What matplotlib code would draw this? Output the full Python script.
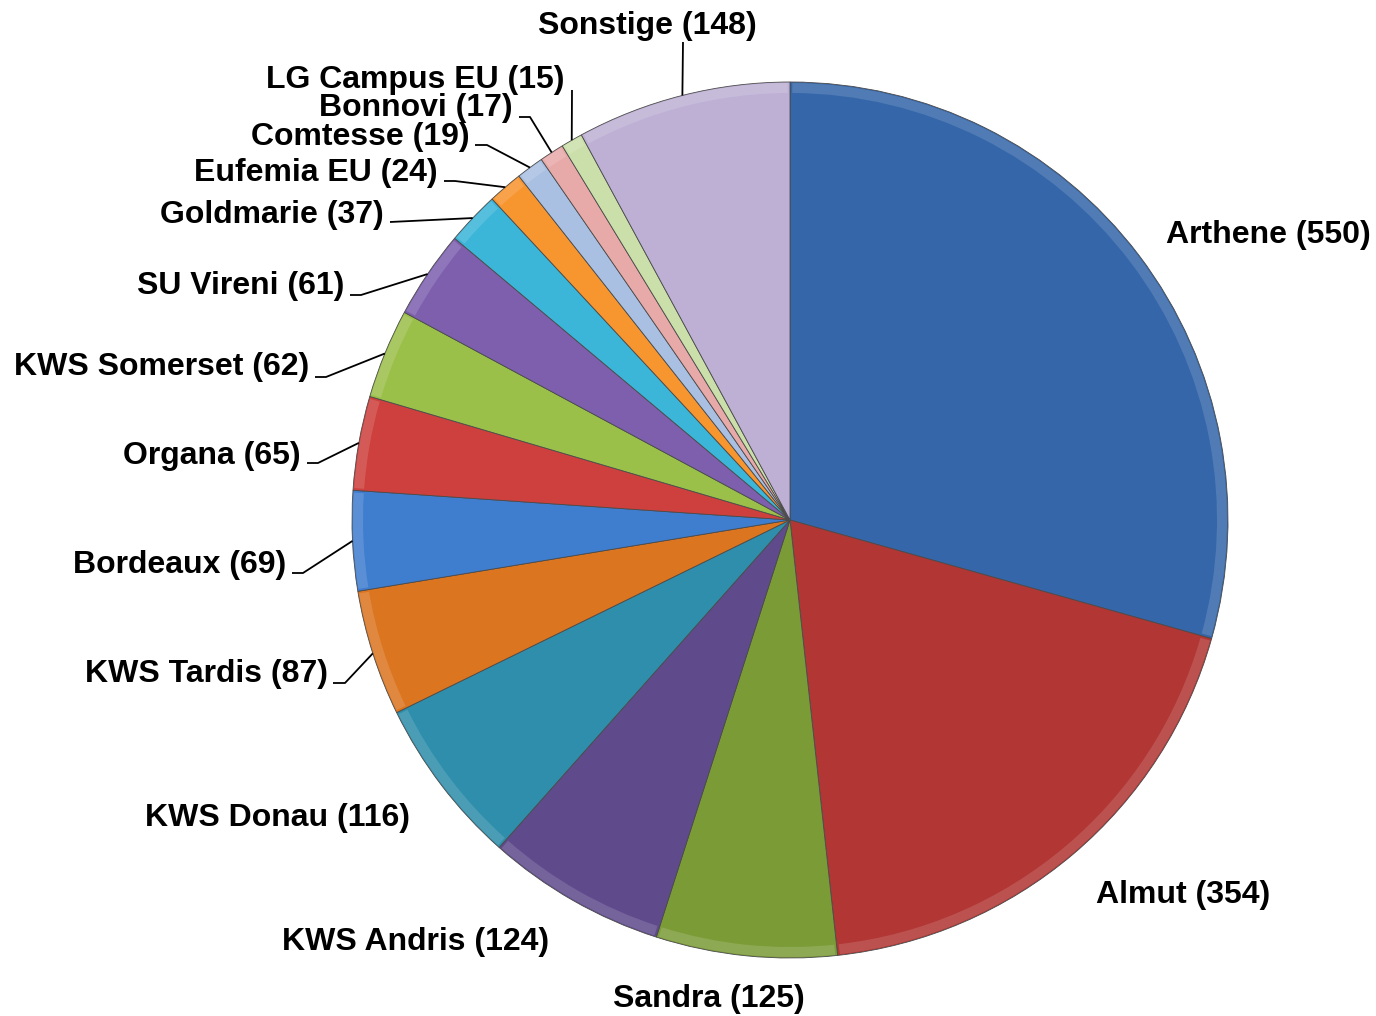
import matplotlib
matplotlib.use("Agg")
import matplotlib.pyplot as plt
import numpy as np
from matplotlib.patches import Wedge

names = ["Arthene", "Almut", "Sandra", "KWS Andris", "KWS Donau", "KWS Tardis",
         "Bordeaux", "Organa", "KWS Somerset", "SU Vireni", "Goldmarie",
         "Eufemia EU", "Comtesse", "Bonnovi", "LG Campus EU", "Sonstige"]
values = [550, 354, 125, 124, 116, 87, 69, 65, 62, 61, 37, 24, 19, 17, 15, 148]
colors = ["#3466A9", "#B13634", "#7B9B37", "#5F4A8C", "#2E8EAB", "#DB7520",
          "#3F7DCF", "#CD403D", "#9BC04A", "#7D5FAE", "#3BB5D8", "#F7952F",
          "#A9C0E3", "#E8AAA9", "#CBDFAA", "#BEB0D4"]

W, H = 1376, 1016
cx, cy, R = 790, 520, 438

# label layout (pixel coords, y from top): text x, baseline y, ha, leader elbow points
label_layout = {
    "Arthene": (1166, 243, "left", None),
    "Almut": (1096, 903, "left", None),
    "Sandra": (709, 1007, "center", None),
    "KWS Andris": (549, 950, "right", None),
    "KWS Donau": (410, 826, "right", None),
    "KWS Tardis": (328, 682, "right", [(333, 683), (345, 683)]),
    "Bordeaux": (286, 573, "right", [(292, 573), (303, 573)]),
    "Organa": (301, 464, "right", [(307, 463), (318, 463)]),
    "KWS Somerset": (309, 375, "right", [(315, 377), (326, 377)]),
    "SU Vireni": (344, 294, "right", [(350, 295), (361, 295)]),
    "Goldmarie": (384, 223, "right", [(390, 222)]),
    "Eufemia EU": (438, 181, "right", [(444, 181), (455, 181)]),
    "Comtesse": (470, 145, "right", [(475, 145), (487, 145)]),
    "Bonnovi": (513, 116, "right", [(519, 117), (530, 117)]),
    "LG Campus EU": (565, 88, "right", [(572, 90)]),
    "Sonstige": (647, 34, "center", [(683, 42)]),
}

fig = plt.figure(figsize=(W / 100, H / 100), dpi=100)
ax = fig.add_axes([0, 0, 1, 1])

wedges, _ = ax.pie(values, colors=colors, startangle=90, counterclock=False,
                   center=(cx, H - cy), radius=R, frame=True,
                   wedgeprops=dict(edgecolor="#4a4a4a", linewidth=0.6))
ax.set_xlim(0, W)
ax.set_ylim(0, H)
ax.set_aspect("equal")
ax.axis("off")

# subtle bevel: light band along the rim
for w in wedges:
    t1, t2 = w.theta1, w.theta2
    ax.add_patch(Wedge((cx, H - cy), R - 1, t1 + 0.3, t2 - 0.3, width=10,
                       facecolor="white", alpha=0.14, edgecolor="none"))

for w, name, v in zip(wedges, names, values):
    tx, ty, ha, elbow = label_layout[name]
    ax.text(tx, H - ty, f"{name} ({v})", ha=ha, va="baseline",
            fontsize=23, fontweight="bold", family="Liberation Sans", color="black")
    if elbow:
        mid = np.deg2rad((w.theta1 + w.theta2) / 2)
        px = cx + R * np.cos(mid)
        py = (H - cy) + R * np.sin(mid)
        xs = [p[0] for p in elbow] + [px]
        ys = [H - p[1] for p in elbow] + [py]
        ax.plot(xs, ys, color="black", lw=1.3, solid_capstyle="butt")

fig.savefig("out.png", dpi=100)
